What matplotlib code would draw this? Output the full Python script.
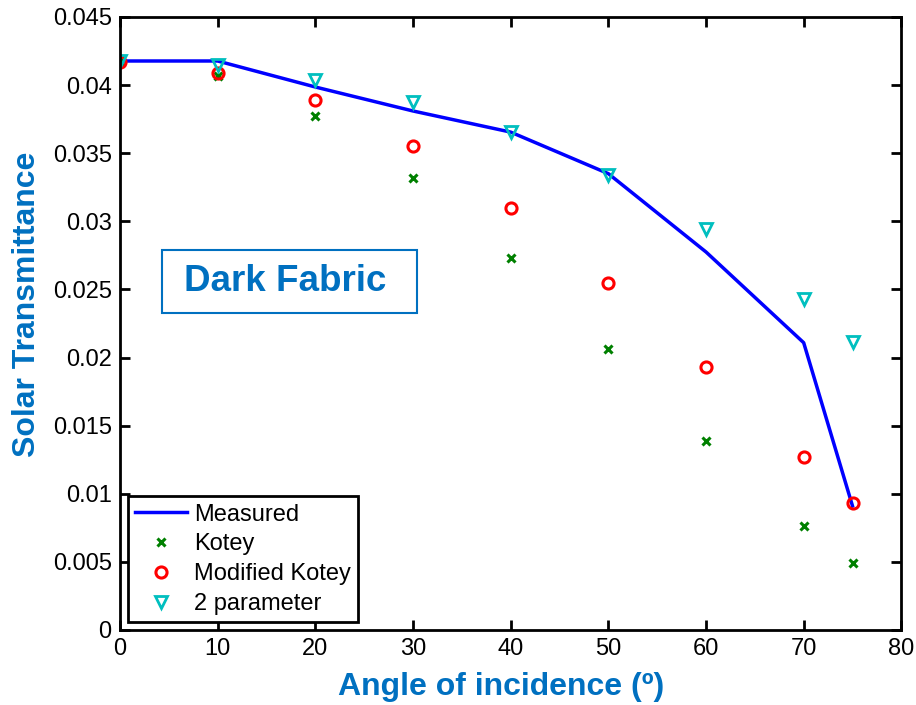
import matplotlib.pyplot as plt
from matplotlib.patches import Rectangle

plt.rcParams['font.family'] = ['Liberation Sans', 'DejaVu Sans']

angles = [0, 10, 20, 30, 40, 50, 60, 70, 75]
measured = [0.04177, 0.04177, 0.03986, 0.0381, 0.03655, 0.03350, 0.02775, 0.02109, 0.0091]
kotey = [0.0418, 0.04070, 0.0377, 0.03316, 0.0273, 0.02066, 0.0139, 0.0076, 0.0049]
mod_kotey = [0.0417, 0.0409, 0.03890, 0.0355, 0.0310, 0.02548, 0.01930, 0.01267, 0.0093]
two_param = [0.0418, 0.0415, 0.04034, 0.03873, 0.03653, 0.03338, 0.02940, 0.02428, 0.02116]

label_blue = '#0070C0'

fig = plt.figure(figsize=(9.16, 7.05), dpi=100)
ax = fig.add_axes([0.131, 0.1064, 0.853, 0.8695])

ax.plot(angles, measured, color='blue', lw=2.5, label='Measured')
ax.plot(angles, kotey, ls='none', marker='x', color='green', ms=6, mew=2.2, label='Kotey')
ax.plot(angles, mod_kotey, ls='none', marker='o', mfc='none', mec='red', ms=8, mew=2.2,
        label='Modified Kotey')
ax.plot(angles, two_param, ls='none', marker='v', mfc='none', mec='#00BFBF', ms=9, mew=2,
        label='2 parameter')

ax.set_xlim(0, 80)
ax.set_ylim(0, 0.045)
ax.set_xticks(range(0, 81, 10))
ax.set_yticks([i * 0.005 for i in range(10)])
ax.set_yticklabels(['0', '0.005', '0.01', '0.015', '0.02', '0.025', '0.03', '0.035', '0.04', '0.045'])

ax.tick_params(direction='in', top=True, right=True, length=7, width=2, labelsize=17, pad=6)
for s in ax.spines.values():
    s.set_linewidth(2)

ax.set_xlabel('Angle of incidence (º)', color=label_blue, fontsize=23, fontweight='bold')
ax.xaxis.set_label_coords(0.488, -0.068)
ax.set_ylabel('Solar Transmittance', color=label_blue, fontsize=23, fontweight='bold')
ax.yaxis.set_label_coords(-0.10, 0.532)

# text box
ax.add_patch(Rectangle((0.0537, 0.517), 0.327, 0.103, transform=ax.transAxes,
                       fc='white', ec=label_blue, lw=1.5, zorder=3))
ax.text(0.211, 0.568, 'Dark Fabric', transform=ax.transAxes, color=label_blue,
        fontsize=26.5, fontweight='bold', va='center', ha='center', zorder=4)

leg = ax.legend(loc='lower left', bbox_to_anchor=(0.01, 0.013), borderaxespad=0, fontsize=17,
                frameon=True, fancybox=False, edgecolor='black', handlelength=2.2,
                borderpad=0.3, labelspacing=0.33, handletextpad=0.3, framealpha=1)
leg.get_frame().set_linewidth(2)

plt.savefig('out.png', dpi=100)
plt.close()
